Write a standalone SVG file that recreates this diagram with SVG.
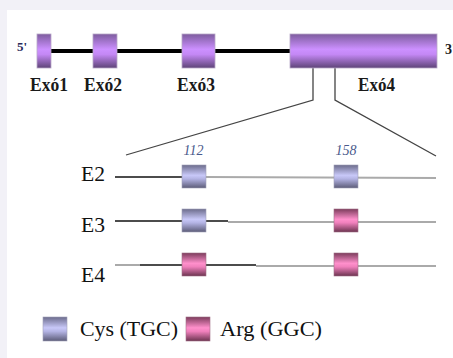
<svg xmlns="http://www.w3.org/2000/svg" width="453" height="358" viewBox="0 0 453 358">
<defs>
<linearGradient id="gExon" x1="0" y1="0" x2="0" y2="1">
<stop offset="0" stop-color="#7d5c9e"/>
<stop offset="0.45" stop-color="#cc90ff"/>
<stop offset="0.6" stop-color="#c488f5"/>
<stop offset="1" stop-color="#5e4478"/>
</linearGradient>
<linearGradient id="gCys" x1="0" y1="0" x2="0" y2="1">
<stop offset="0" stop-color="#6c6c8c"/>
<stop offset="0.45" stop-color="#c8c8f8"/>
<stop offset="0.6" stop-color="#b4b4e4"/>
<stop offset="1" stop-color="#5c5c78"/>
</linearGradient>
<linearGradient id="gArg" x1="0" y1="0" x2="0" y2="1">
<stop offset="0" stop-color="#7c3c5c"/>
<stop offset="0.45" stop-color="#ff90cc"/>
<stop offset="0.6" stop-color="#f080bc"/>
<stop offset="1" stop-color="#6c3450"/>
</linearGradient>
</defs>
<style>
.exon{fill:url(#gExon);stroke:#b8a8c8;stroke-width:0.8}
.cys{fill:url(#gCys);stroke:#a0a0b8;stroke-width:0.6}
.arg{fill:url(#gArg);stroke:#a07088;stroke-width:0.6}
.intron{stroke:#000;stroke-width:4;fill:none}
.blk{stroke:#111;stroke-width:1.6;fill:none}
.gry{stroke:#aaa;stroke-width:2;fill:none}
.zoom{stroke:#444;stroke-width:1.3;fill:none}
.lbl{font-weight:bold;font-size:19px;fill:#1a1a1a}
.row{font-size:22px;fill:#111}
.pos{font-style:italic;font-size:14px;fill:#4a5a8c}
.leg{font-size:22px;fill:#111}
</style>
<rect width="453" height="358" fill="#f2f1f7"/>
<rect x="7" y="10" width="446" height="348" fill="#ffffff"/>
<g id="connectors">
<line class="intron" x1="48" y1="51" x2="95" y2="51"/>
<line class="intron" x1="114" y1="51" x2="185" y2="51"/>
<line class="intron" x1="213" y1="51" x2="294" y2="51"/>
<polyline class="zoom" points="313,68 313,100 126,155"/>
<polyline class="zoom" points="335,68 335,100 436,156"/>
<line class="blk" x1="115" y1="177" x2="182" y2="177"/>
<line class="gry" x1="206" y1="177" x2="436" y2="178"/>
<line class="blk" x1="115" y1="221" x2="228" y2="221"/>
<line class="gry" x1="228" y1="222" x2="436" y2="222"/>
<line class="gry" x1="115" y1="265" x2="140" y2="265"/>
<line class="blk" x1="140" y1="265" x2="256" y2="265"/>
<line class="gry" x1="256" y1="266" x2="436" y2="266"/>
</g>
<g id="exon1"><rect class="exon" x="37" y="34" width="14" height="34"/><text class="lbl" font-family="Liberation Serif, serif" x="30" y="91" textLength="38" lengthAdjust="spacingAndGlyphs">Exó1</text></g>
<g id="exon2"><rect class="exon" x="93" y="34" width="24" height="34"/><text class="lbl" font-family="Liberation Serif, serif" x="84" y="91" textLength="38" lengthAdjust="spacingAndGlyphs">Exó2</text></g>
<g id="exon3"><rect class="exon" x="182" y="34" width="33" height="34"/><text class="lbl" font-family="Liberation Serif, serif" x="177" y="91" textLength="38" lengthAdjust="spacingAndGlyphs">Exó3</text></g>
<g id="exon4"><rect class="exon" x="290" y="34" width="147" height="34"/><text class="lbl" font-family="Liberation Serif, serif" x="358" y="91" textLength="37" lengthAdjust="spacingAndGlyphs">Exó4</text></g>
<g id="ends">
<text font-family="Liberation Serif, serif" font-weight="bold" font-size="13" fill="#2a2a5a" x="17" y="51">5'</text>
<text font-family="Liberation Serif, serif" font-weight="bold" font-size="14" fill="#1a1a1a" x="445" y="54">3'</text>
</g>
<g id="positions">
<text class="pos" font-family="Liberation Serif, serif" x="193.5" y="155" text-anchor="middle">112</text>
<text class="pos" font-family="Liberation Serif, serif" x="346" y="155" text-anchor="middle">158</text>
</g>
<g id="E2"><text class="row" font-family="Liberation Serif, serif" x="81" y="181" textLength="24" lengthAdjust="spacingAndGlyphs">E2</text><rect class="cys" x="182" y="165" width="24" height="23"/><rect class="cys" x="334" y="165" width="24" height="23"/></g>
<g id="E3"><text class="row" font-family="Liberation Serif, serif" x="81" y="232" textLength="24" lengthAdjust="spacingAndGlyphs">E3</text><rect class="cys" x="182" y="209" width="24" height="23"/><rect class="arg" x="334" y="209" width="24" height="23"/></g>
<g id="E4"><text class="row" font-family="Liberation Serif, serif" x="81" y="282" textLength="24" lengthAdjust="spacingAndGlyphs">E4</text><rect class="arg" x="182" y="253" width="24" height="23"/><rect class="arg" x="334" y="253" width="24" height="23"/></g>
<g id="legend">
<rect class="cys" x="43" y="317" width="24" height="24"/>
<text class="leg" font-family="Liberation Serif, serif" x="80" y="336" textLength="98" lengthAdjust="spacingAndGlyphs">Cys (TGC)</text>
<rect class="arg" x="186" y="317" width="24" height="24"/>
<text class="leg" font-family="Liberation Serif, serif" x="220" y="336" textLength="102" lengthAdjust="spacingAndGlyphs">Arg (GGC)</text>
</g>
</svg>
